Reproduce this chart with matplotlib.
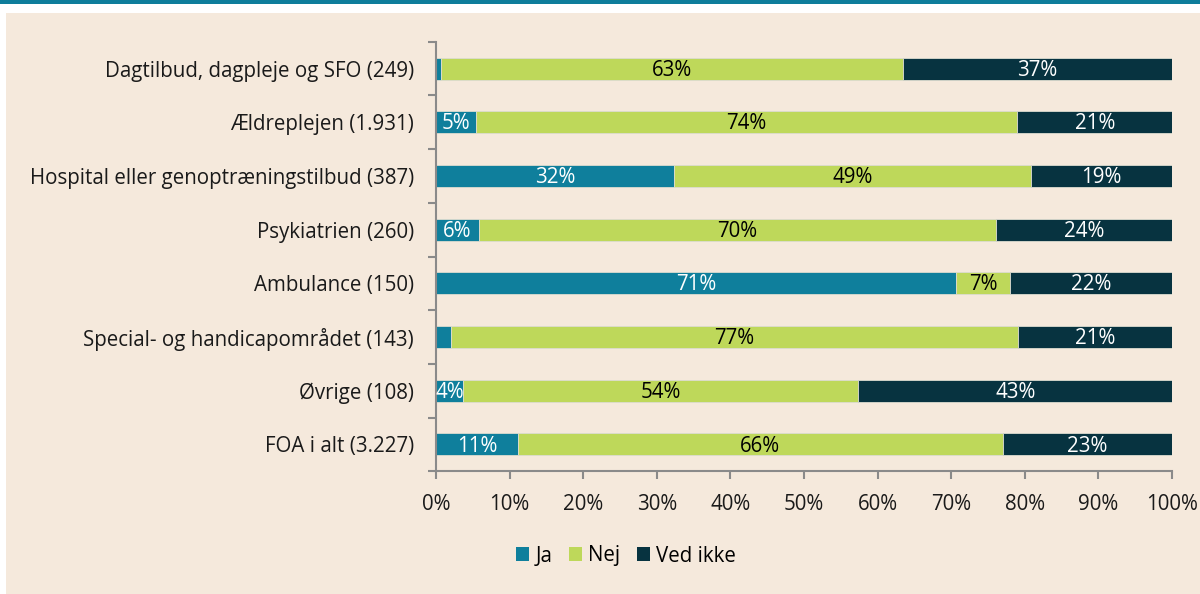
import numpy as np
import matplotlib
matplotlib.use('Agg')
from matplotlib import pyplot as plt
from matplotlib.patches import Rectangle

categories = ['Dagtilbud, dagpleje og SFO (249)', 'Ældreplejen (1.931)',
              'Hospital eller genoptræningstilbud (387)', 'Psykiatrien (260)',
              'Ambulance (150)', 'Special- og handicapområdet (143)',
              'Øvrige (108)', 'FOA i alt (3.227)']
ja = [0.7, 5.4, 32.3, 5.8, 70.7, 2.0, 3.7, 11.1]
nej = [62.7, 73.6, 48.6, 70.3, 7.3, 77.1, 53.7, 65.9]
ved_ikke = [36.6, 21.0, 19.1, 23.9, 22.0, 20.9, 42.6, 23.0]
series_names = ['Ja', 'Nej', 'Ved ikke']

colors = ['#0f7f9c', '#bed85a', '#073340']
text_colors = ['white', 'black', 'white']
bg = '#f5e9dc'

plt.rcParams['font.family'] = ['Open Sans', 'DejaVu Sans']
fs = 14.8

fig = plt.figure(figsize=(12, 5.94), dpi=100, facecolor='white')
fig.patches.append(Rectangle((6 / 1200, 0), 1, (594 - 13) / 594, transform=fig.transFigure,
                             facecolor=bg, edgecolor='none', zorder=-2))
fig.patches.append(Rectangle((0, 590 / 594), 1, 4 / 594, transform=fig.transFigure,
                             facecolor='#0e7d9b', edgecolor='none', zorder=-2))

ax = fig.add_axes([436 / 1200, 1 - 471.3 / 594, 736 / 1200, (471.3 - 41.7) / 594])
ax.patch.set_alpha(0)

y = np.arange(len(categories))
left = np.zeros(len(categories))
for vals, name, c, tc in zip([ja, nej, ved_ikke], series_names, colors, text_colors):
    vals = np.array(vals)
    ax.barh(y, vals, left=left, height=0.41, color=c, edgecolor='#dcdcd0',
            linewidth=0.6, label=name)
    for yi, l, v in zip(y, left, vals):
        if v >= 3:
            ax.text(l + v / 2, yi + 0.03, f'{round(v)}%', ha='center', va='center',
                    color=tc, fontsize=fs)
    left += vals

ax.set_xlim(0, 100)
ax.set_ylim(len(categories) - 0.5, -0.5)
ax.set_xticks(np.arange(0, 101, 10))
ax.set_xticklabels([f'{v}%' for v in range(0, 101, 10)], fontsize=fs, color='#1a1a1a')
ax.set_yticks(y)
ax.set_yticklabels(categories, fontsize=fs, color='#1a1a1a')
ax.set_yticks(np.arange(-0.5, len(categories), 1), minor=True)
ax.tick_params(axis='y', which='major', length=0, pad=16)
ax.tick_params(axis='y', which='minor', length=6, width=1.5, color='#8a8a8a', direction='out')
ax.tick_params(axis='x', length=6, width=1.5, color='#8a8a8a', direction='out', pad=10)

for s in ['top', 'right']:
    ax.spines[s].set_visible(False)
for s in ['left', 'bottom']:
    ax.spines[s].set_color('#8a8a8a')
    ax.spines[s].set_linewidth(1.5)

leg = fig.legend(loc='center', bbox_to_anchor=(626 / 1200, 1 - 556 / 594), ncol=3,
                 frameon=False, fontsize=fs, handlelength=0.65, handleheight=0.65,
                 handletextpad=0.3, columnspacing=0.8)
for h in leg.legend_handles:
    h.set_edgecolor('none')

fig.savefig('out.png', dpi=100, facecolor='white')
